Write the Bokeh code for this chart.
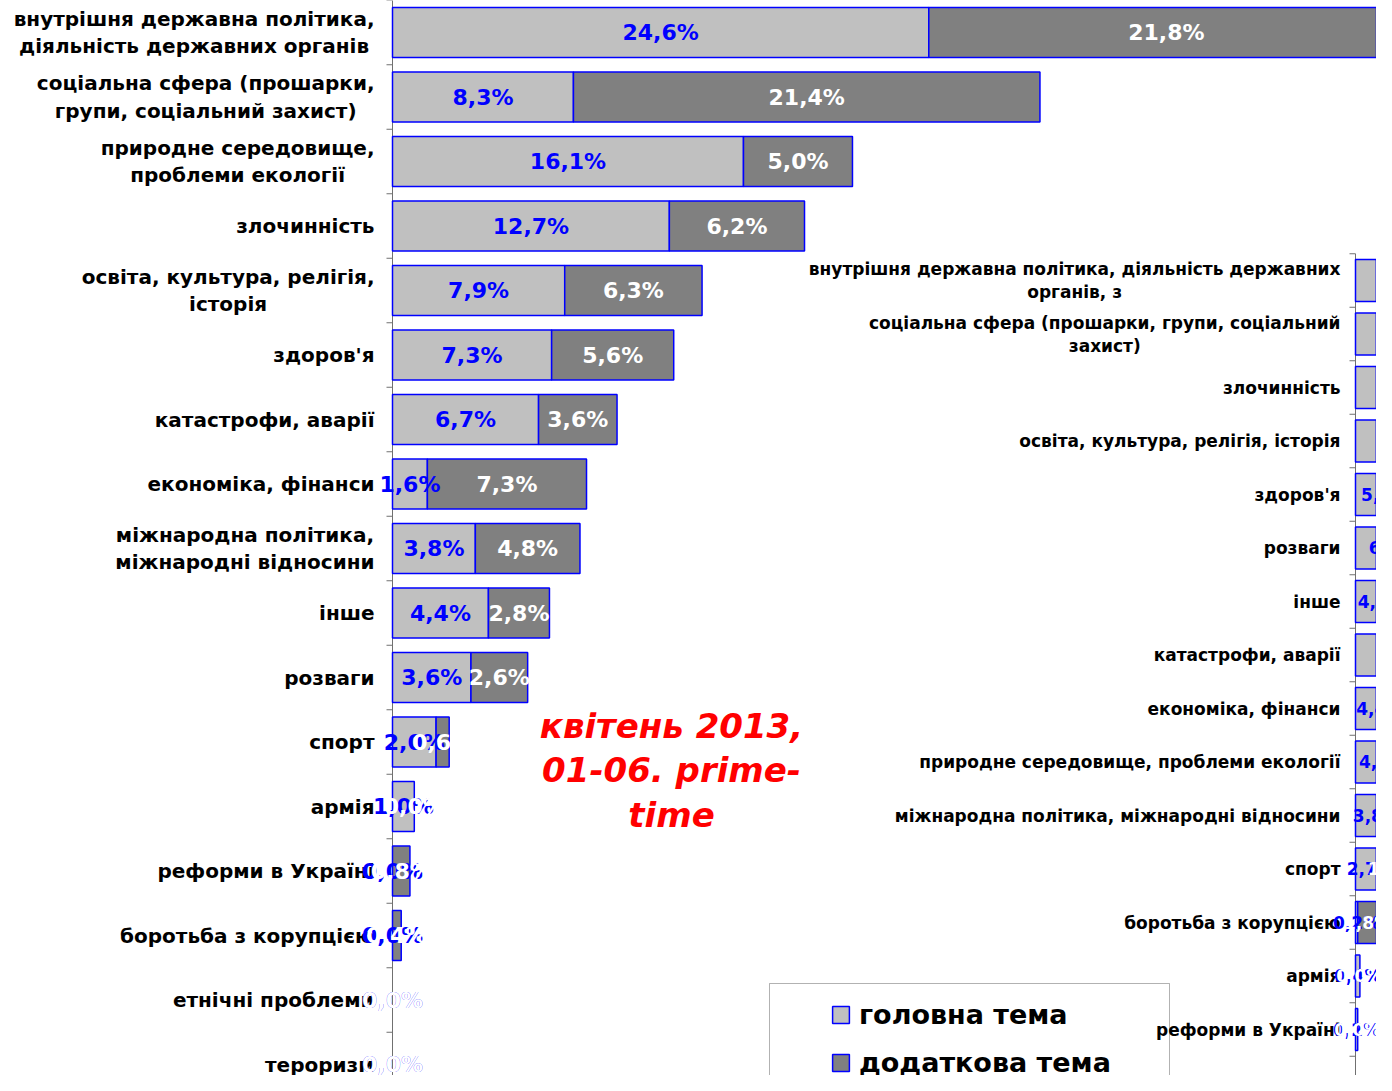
import math
from bokeh.plotting import figure
from bokeh.models import (Range1d, ColumnDataSource, Label, Legend, LegendItem, BoxAnnotation)
from bokeh.embed import file_html
from bokeh.resources import INLINE
from bokeh.core.properties import value

# ---------------- data ----------------
left_categories = [
    "внутрішня державна політика,\nдіяльність державних органів",
    "соціальна сфера (прошарки,\nгрупи, соціальний захист)",
    "природне середовище,\nпроблеми екології",
    "злочинність",
    "освіта, культура, релігія,\nісторія",
    "здоров'я",
    "катастрофи, аварії",
    "економіка, фінанси",
    "міжнародна політика,\nміжнародні відносини",
    "інше",
    "розваги",
    "спорт",
    "армія",
    "реформи в Україні",
    "боротьба з корупцією",
    "етнічні проблеми",
    "тероризм",
]
left_main = [24.6, 8.3, 16.1, 12.7, 7.9, 7.3, 6.7, 1.6, 3.8, 4.4, 3.6, 2.0, 1.0, 0.0, 0.0, 0.0, 0.0]
left_extra = [21.8, 21.4, 5.0, 6.2, 6.3, 5.6, 3.6, 7.3, 4.8, 2.8, 2.6, 0.6, 0.0, 0.8, 0.4, 0.0, 0.0]

right_categories = [
    "внутрішня державна політика, діяльність державних\nорганів, з",
    "соціальна сфера (прошарки, групи, соціальний\nзахист)",
    "злочинність",
    "освіта, культура, релігія, історія",
    "здоров'я",
    "розваги",
    "інше",
    "катастрофи, аварії",
    "економіка, фінанси",
    "природне середовище, проблеми екології",
    "міжнародна політика, міжнародні відносини",
    "спорт",
    "боротьба з корупцією",
    "армія",
    "реформи в Україні",
    "тероризм",
]
right_main = [26.0, 15.0, 13.5, 12.0, 5.3, 6.7, 4.7, 8.8, 4.4, 4.9, 3.8, 2.7, 0.2, 0.4, 0.2, 0.0]
right_extra = [20.0, 17.0, 5.0, 5.5, 4.0, 2.0, 3.0, 3.0, 5.0, 3.0, 4.0, 1.1, 1.8, 0.0, 0.0, 0.0]

series_names = ["головна тема", "додаткова тема"]
title_text = "квітень 2013,\n01-06. prime-\ntime"

# ---------------- style / layout ----------------
W, H = 1376, 1075
L_ZERO = 392.0        # px from left edge to left chart zero
L_SCALE = 21.8        # px per percent (left chart)
L_PITCH = 64.5        # px per category row (left chart)
L_FIRST = 32.0        # px from top to first row centre
R_ZERO = 1355.0       # px from left edge to right chart zero
R_SCALE = 11.0
R_PITCH = 53.5
R_FIRST = 280.0

LIGHT = "#c0c0c0"
DARK = "#808080"
BLUE = "#0000ff"
AXIS = "#707070"
FONT = "DejaVu Sans"


def fmt(v):
    return ("%.1f" % v).replace(".", ",") + "%"


p = figure(width=W, height=H, output_backend="svg", toolbar_location=None,
           x_axis_location=None, y_axis_location=None,
           x_range=Range1d(-L_ZERO / L_SCALE, (W - L_ZERO) / L_SCALE),
           y_range=Range1d((H - L_FIRST) / L_PITCH, -L_FIRST / L_PITCH),
           min_border=0)
p.outline_line_color = None
p.xgrid.visible = False
p.ygrid.visible = False
p.background_fill_color = "white"
p.border_fill_color = "white"

p.extra_x_ranges = {"r": Range1d(-R_ZERO / R_SCALE, (W - R_ZERO) / R_SCALE)}
p.extra_y_ranges = {"r": Range1d((H - R_FIRST) / R_PITCH, -R_FIRST / R_PITCH)}

# ---------------- legend box (underlay) ----------------
box = BoxAnnotation(left=769, right=1169, top=92, bottom=-40,
                    left_units="screen", right_units="screen",
                    top_units="screen", bottom_units="screen",
                    fill_color="white", fill_alpha=1.0,
                    line_color="black", line_width=1, level="underlay")
p.add_layout(box)


def draw_chart(cats, mains, extras, height, cat_size, val_size, standoff, xr="default", yr="default"):
    n = len(cats)
    kw = dict(x_range_name=xr, y_range_name=yr)
    # category axis: line, boundary ticks, labels
    p.segment(x0=[0], y0=[-0.5], x1=[0], y1=[n - 0.5], line_color=AXIS, line_width=1, **kw)
    p.ray(x=[0] * (n + 1), y=[j - 0.5 for j in range(n + 1)], length=6, length_units="screen",
          angle=math.pi, line_color=AXIS, line_width=1, **kw)
    p.text(x=[0] * n, y=list(range(n)), text=cats, x_offset=-standoff,
           anchor="center_right", text_align="center", text_baseline="middle",
           text_font=value(FONT), text_font_style="bold", text_font_size=cat_size,
           text_color="black", text_line_height=1.15, **kw)
    # stacked bars (zero-width segments are not drawn)
    M = [(i, v) for i, v in enumerate(mains) if v > 0]
    E = [(i, m, e) for i, (m, e) in enumerate(zip(mains, extras)) if e > 0]
    rm = p.hbar(y=[a for a, _ in M], left=0, right=[b for _, b in M], height=height,
                fill_color=LIGHT, line_color=BLUE, line_width=1.5, **kw)
    re_ = p.hbar(y=[a for a, _, _ in E], left=[b for _, b, _ in E],
                 right=[b + c for _, b, c in E], height=height,
                 fill_color=DARK, line_color=BLUE, line_width=1.5, **kw)
    # value labels
    p.text(x=[m / 2 for m in mains], y=list(range(n)), text=[fmt(m) for m in mains],
           text_align="center", text_baseline="middle", text_font=value(FONT),
           text_font_style="bold", text_font_size=val_size, text_color=BLUE, **kw)
    p.text(x=[m + e / 2 for m, e in zip(mains, extras)], y=list(range(n)),
           text=[fmt(e) for e in extras],
           text_align="center", text_baseline="middle", text_font=value(FONT),
           text_font_style="bold", text_font_size=val_size, text_color="white", **kw)
    return rm, re_


r_main, r_extra = draw_chart(left_categories, left_main, left_extra, 0.775, "20px", "22px", 18)
draw_chart(right_categories, right_main, right_extra, 0.785, "17px", "17px", 15, "r", "r")

# ---------------- red title ----------------
p.add_layout(Label(x=671, y=305, x_units="screen", y_units="screen", text=title_text,
                   text_align="center", text_baseline="middle", text_font=FONT,
                   text_font_style="bold italic", text_font_size="34px",
                   text_color="#ff0000", text_line_height=1.12))

# ---------------- legend ----------------
legend = Legend(items=[LegendItem(label=series_names[0], renderers=[r_main]),
                       LegendItem(label=series_names[1], renderers=[r_extra])],
                location=(830, -3), border_line_color=None, background_fill_alpha=0,
                label_text_font=FONT, label_text_font_style="bold",
                label_text_font_size="27px", label_text_color="black",
                glyph_width=21, glyph_height=21, label_standoff=8,
                spacing=16, padding=10, label_height=32)
p.add_layout(legend)

open("out.html", "w").write(file_html(p, INLINE))
